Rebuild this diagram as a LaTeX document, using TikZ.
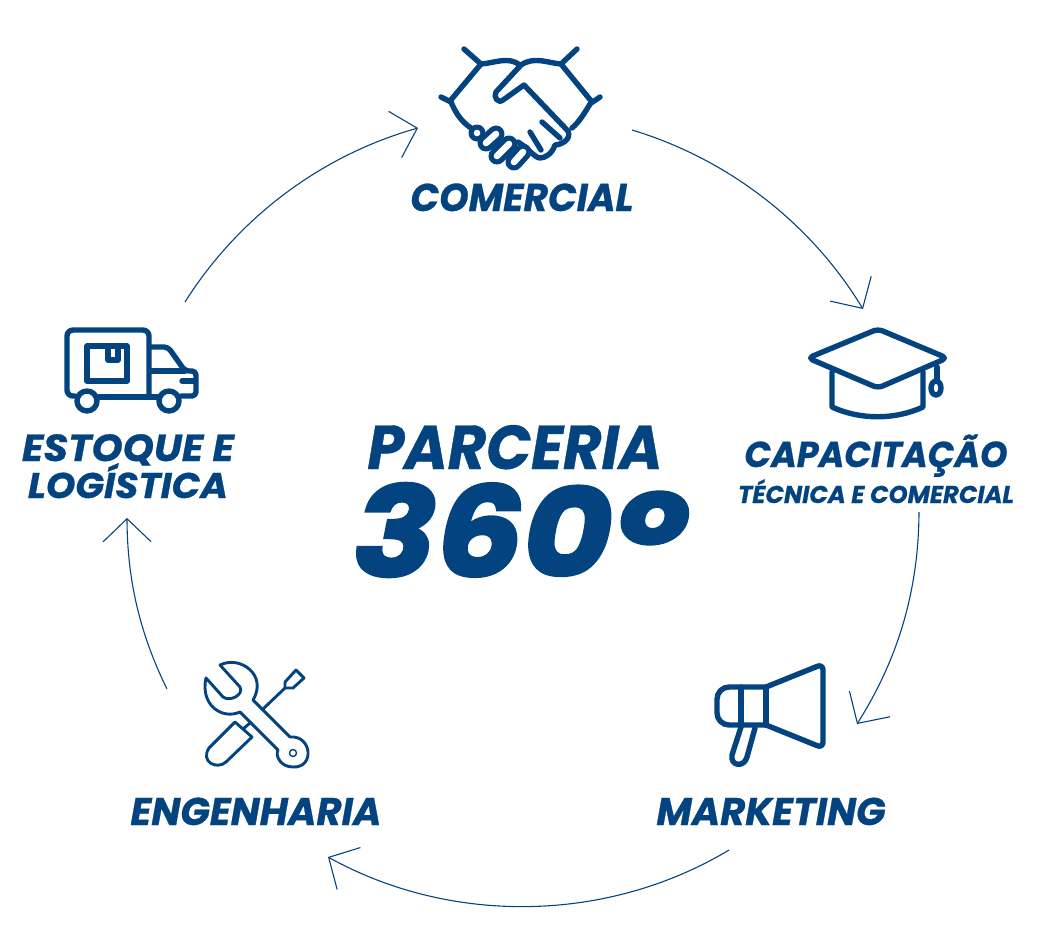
\documentclass[tikz,border=0pt]{standalone}
\usepackage{fontspec}
\usepackage{graphicx}
\setmainfont[FakeBold=0.7]{Poppins}
\newfontfamily\heavyfont[FakeBold=2.5]{Poppins}
\usetikzlibrary{arrows.meta}
\definecolor{navy}{HTML}{03437F}
\newcommand{\fitlabel}[3]{\resizebox{#1}{!}{\scalebox{1}[#2]{#3}}}
\tikzset{
  main label/.style={inner sep=0pt,anchor=base,text=navy,font=\bfseries\itshape},
  round arrow/.style={navy,line width=1.1pt,-{Straight Barb[length=23pt,width=48pt,line width=1.1pt]}},
  icon/.style={navy,line width=5.4pt,line cap=round,line join=round},
  thin icon/.style={navy,line width=2.9pt,line cap=round,line join=round}
}
\begin{document}
\begin{tikzpicture}[x=1pt,y=-1pt]
  \useasboundingbox (0,0) rectangle (1038,951);

  % labels
  \node[main label] (comercial) at (522,211) {\fitlabel{223pt}{1.03}{COMERCIAL}};
  \node[main label] (capacitacao) at (876,467) {\fitlabel{263pt}{1.03}{CAPACITAÇÃO}};
  \node[main label] (tecnica) at (876,503) {\fitlabel{276pt}{1}{TÉCNICA E COMERCIAL}};
  \node[main label] (marketing) at (771,825) {\fitlabel{229pt}{1}{MARKETING}};
  \node[main label] (engenharia) at (256,825) {\fitlabel{251pt}{1}{ENGENHARIA}};
  \node[main label] (estoque) at (128,461) {\fitlabel{212pt}{0.95}{ESTOQUE E}};
  \node[main label] (logistica) at (128,498) {\fitlabel{200pt}{0.95}{LOGÍSTICA}};
  \node[main label] (parceria) at (515,469) {\fitlabel{295pt}{1.05}{PARCERIA}};
  \node[main label] (grau) at (519,576) {\fitlabel{330pt}{0.91}{\heavyfont\bfseries\itshape 360\raisebox{-0.14em}{\scalebox{1.15}{º}}}};

  % arrows between the stages
  \coordinate (a1) at (185,302);
  \coordinate (a2) at (418,128);
  \coordinate (b1) at (632,130);
  \coordinate (b2) at (863,309);
  \coordinate (c1) at (919,512);
  \coordinate (c2) at (857,724);
  \coordinate (d1) at (729,850);
  \coordinate (d2) at (328,857);
  \coordinate (e1) at (167,689);
  \coordinate (e2) at (127,518);
  \draw[round arrow] (a1) to[bend left=21,looseness=0.88] (a2);
  \draw[round arrow] (b1) to[bend left=21,looseness=0.88] (b2);
  \draw[round arrow] (c1) to[bend left=16,looseness=0.9] (c2);
  \draw[round arrow] (d1) to[bend left=30,looseness=0.9] (d2);
  \draw[round arrow] (e1) to[bend left=13,looseness=0.9] (e2);

  % handshake
  \draw[icon] (464,49) -- (481,64) -- (450,101);
  \draw[icon] (441,97) -- (451,102);
  \draw[icon] (577,49) -- (561,64) -- (592,102);
  \draw[icon] (600,97) -- (591,103);
  \draw[icon] (451,102) .. controls (456,114) and (462,122) .. (471,128);
  \draw[icon] (590,104) .. controls (584,114) and (579,122) .. (572,128);
  \draw[icon] (481,64) .. controls (495,63) and (508,56) .. (520,65);
  \draw[icon] (561,64) .. controls (548,63) and (534,56) .. (521,65)
    -- (496,92) .. controls (493,97) and (498,104) .. (503,100) -- (524,85)
    -- (568,131) .. controls (572,140) and (560,145) .. (555,145)
    .. controls (552,154) and (545,158) .. (540,158)
    .. controls (535,158) and (528,148) .. (518,142);
  \draw[icon] (542,122) -- (560,138) (530,132) -- (541,150);
  \foreach \xa/\ya/\xb/\yb in {477/133/477/133, 486/143/496/134, 497/156/509/144, 514/162/523/152}{
    \draw[navy,line width=17pt,line cap=round] (\xa,\ya) -- (\xb,\yb);
  }
  \foreach \xa/\ya/\xb/\yb in {477/133/477/133, 486/143/496/134, 497/156/509/144, 514/162/523/152}{
    \draw[white,line width=6.6pt,line cap=round] (\xa,\ya) -- (\xb,\yb);
  }

  % hat
  \draw[icon,rounded corners=5pt] (878,329) -- (947,358) -- (878,388) -- (808,358) -- cycle;
  \draw[icon] (832,372) -- (832,407) .. controls (860,420) and (895,420) .. (923,407) -- (923,372);
  \draw[icon] (937,367) -- (937,381);
  \draw[icon] (936,388) ellipse (5pt and 7pt);

  % megaphone
  \draw[icon,rounded corners=12pt] (766,687) -- (717,687) -- (717,725) -- (766,725);
  \draw[icon] (741,687) -- (741,725) (766,687) -- (766,725);
  \draw[icon,rounded corners=6pt] (766,687) -- (823,664) -- (823,748) -- (766,725);
  \draw[icon] (741,727) -- (732,755) .. controls (730,766) and (744,768) .. (747,757) -- (755,728);

  % tools
  \draw[thin icon] (206,678) -- (223,697) .. controls (230,702) and (244,695) .. (240,687) -- (220,665)
    .. controls (240,655) and (268,675) .. (253,700) -- (290,737)
    .. controls (312,735) and (315,768) .. (293,767) .. controls (280,767) and (275,755) .. (278,750)
    -- (240,712) .. controls (222,720) and (200,705) .. (206,678) -- cycle;
  \draw[navy,line width=1.4pt] (293,753) circle (3.5pt);
  \draw[thin icon] (263,709) -- (285,688) -- (285,682) -- (296,670) -- (304,678) -- (293,688) -- (285,688);
  \draw[thin icon] (243,729) -- (250,723);
  \draw[thin icon] (235,722) -- (209,748) .. controls (200,762) and (217,770) .. (226,762) -- (252,737) -- cycle;

  % truck
  \draw[icon,rounded corners=6pt] (75,396) -- (67,396) -- (67,330) -- (149,330) -- (149,396);
  \draw[icon] (99,397) -- (158,397);
  \draw[icon,rounded corners=4pt] (150,347) -- (168,347) -- (185,371) -- (196,371) -- (196,396) -- (181,396);
  \draw[icon] (150,371) -- (185,371) (182,381) -- (195,381);
  \draw[icon] (87,401) circle (10pt) (169,401) circle (10pt);
  \draw[icon] (87,346) rectangle (127,381);
  \draw[icon] (108,347) -- (108,360) -- (118,360) -- (118,347);
\end{tikzpicture}
\end{document}
